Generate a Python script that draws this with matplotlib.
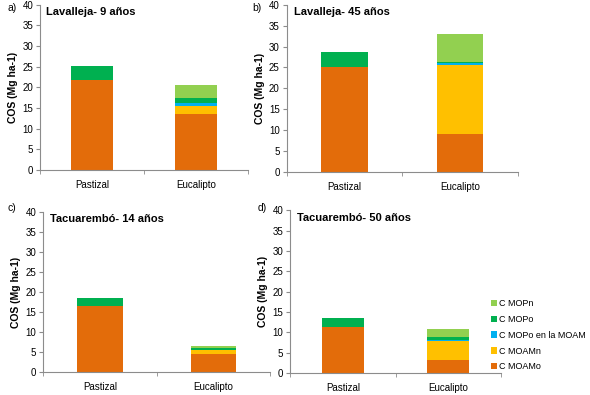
import numpy as np
import matplotlib
matplotlib.use("Agg")
import matplotlib.pyplot as plt
from matplotlib.patches import Patch

plt.rcParams['font.family'] = ['Liberation Sans', 'DejaVu Sans']

# categories and series
sitios = ["Pastizal", "Eucalipto"]
componentes = ["C MOAMo", "C MOAMn", "C MOPo en la MOAM", "C MOPo", "C MOPn"]
colores = ["#E36C0A", "#FFC000", "#00B0F0", "#00B050", "#92D050"]

titulos = ["Lavalleja- 9 años", "Lavalleja- 45 años",
           "Tacuarembó- 14 años", "Tacuarembó- 50 años"]
letras = ["a)", "b)", "c)", "d)"]

# values per panel: [Pastizal, Eucalipto] for each component (Mg ha-1)
lav9_moamo = [21.8, 13.6]
lav9_moamn = [0.0, 1.8]
lav9_mopo_moam = [0.0, 0.7]
lav9_mopo = [3.4, 1.3]
lav9_mopn = [0.0, 3.2]

lav45_moamo = [25.1, 9.1]
lav45_moamn = [0.0, 16.4]
lav45_mopo_moam = [0.0, 0.5]
lav45_mopo = [3.7, 0.3]
lav45_mopn = [0.0, 6.6]

tac14_moamo = [16.6, 4.7]
tac14_moamn = [0.0, 0.8]
tac14_mopo_moam = [0.0, 0.15]
tac14_mopo = [1.9, 0.55]
tac14_mopn = [0.0, 0.3]

tac50_moamo = [11.3, 3.3]
tac50_moamn = [0.0, 4.6]
tac50_mopo_moam = [0.0, 0.2]
tac50_mopo = [2.3, 0.7]
tac50_mopn = [0.0, 2.0]

paneles = [
    [lav9_moamo, lav9_moamn, lav9_mopo_moam, lav9_mopo, lav9_mopn],
    [lav45_moamo, lav45_moamn, lav45_mopo_moam, lav45_mopo, lav45_mopn],
    [tac14_moamo, tac14_moamn, tac14_mopo_moam, tac14_mopo, tac14_mopn],
    [tac50_moamo, tac50_moamn, tac50_mopo_moam, tac50_mopo, tac50_mopn],
]

# axes boxes in figure fractions (left, bottom, width, height)
cajas = [
    [0.068, 0.570, 0.352, 0.418],
    [0.486, 0.565, 0.392, 0.423],
    [0.073, 0.057, 0.385, 0.407],
    [0.492, 0.055, 0.357, 0.413],
]
# letter positions (x, y) in figure fractions
pos_letras = [(0.012, 0.992), (0.428, 0.992), (0.012, 0.487), (0.437, 0.487)]

gris = "#8C8C8C"
fig = plt.figure(figsize=(5.9, 3.95), dpi=100)

for i in range(4):
    ax = fig.add_axes(cajas[i])
    x = np.arange(len(sitios))
    base = np.zeros(len(sitios))
    for vals, col in zip(paneles[i], colores):
        ax.bar(x, vals, width=0.4, bottom=base, color=col, edgecolor="none")
        base += np.array(vals)

    ax.set_xlim(-0.5, 1.5)
    ax.set_ylim(0, 40)
    ax.set_yticks(np.arange(0, 41, 5))
    ax.set_xticks(x)
    ax.set_xticklabels(sitios, fontsize=7)
    ax.set_xticks([-0.5, 0.5, 1.5], minor=True)
    ax.tick_params(axis='x', which='major', length=0, pad=7)
    ax.tick_params(axis='x', which='minor', length=3, color=gris)
    ax.tick_params(axis='y', length=3, color=gris, labelsize=7, pad=2)
    for s in ["top", "right"]:
        ax.spines[s].set_visible(False)
    for s in ["left", "bottom"]:
        ax.spines[s].set_color(gris)
        ax.spines[s].set_linewidth(0.8)
    ax.set_ylabel("COS (Mg ha-1)", fontsize=7.5, fontweight="bold", labelpad=3)
    ax.text(0.03, 0.985, titulos[i], transform=ax.transAxes, fontsize=8,
            fontweight="bold", va="top", ha="left")
    fig.text(pos_letras[i][0], pos_letras[i][1], letras[i], fontsize=7.5,
             va="top", ha="left")

    if i == 3:
        handles = [Patch(facecolor=c, edgecolor="none") for c in colores][::-1]
        ax.legend(handles, componentes[::-1], loc="lower left",
                  bbox_to_anchor=(0.935, -0.01), frameon=False, fontsize=6.5,
                  handlelength=0.7, handleheight=0.7, handletextpad=0.25,
                  labelspacing=0.75, borderaxespad=0)

fig.savefig("out.png", dpi=100)
